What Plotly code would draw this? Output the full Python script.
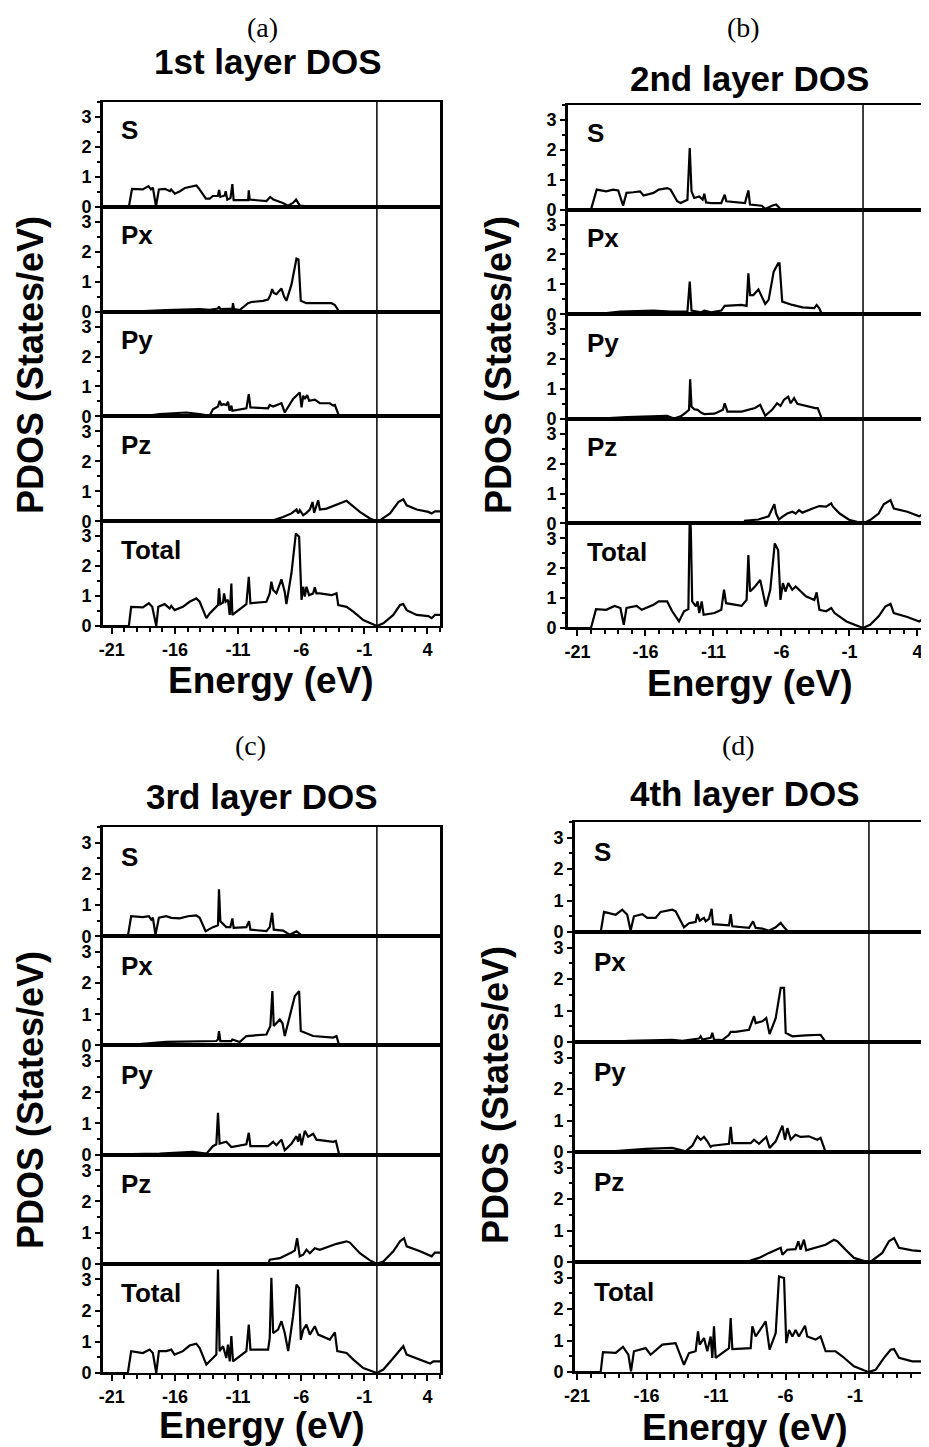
import plotly.graph_objects as go

# ---------------- categories / labels ----------------
ORBITALS = ["S", "Px", "Py", "Pz", "Total"]
PANEL_LETTERS = ["(a)", "(b)", "(c)", "(d)"]
PANEL_TITLES = ["1st layer DOS", "2nd layer DOS", "3rd layer DOS", "4th layer DOS"]
X_TICKS = [-21, -16, -11, -6, -1, 4]
Y_TICKS = [0, 1, 2, 3]
FERMI_LEVEL = 0.0

# ---------------- data: (energy eV, PDOS states/eV) ----------------
# Panel (a) 1st layer
A_S = [(-21.7, 0), (-19.65, 0), (-19.4, 0.6), (-18.55, 0.58), (-18.1, 0.69), (-17.9, 0.58), (-17.75, 0.64),
       (-17.5, 0.02), (-17.27, 0.58), (-16.8, 0.6), (-16.4, 0.52), (-16.3, 0.58), (-16.0, 0.44), (-15.6, 0.52),
       (-15.2, 0.63), (-14.9, 0.66), (-14.3, 0.71), (-14.05, 0.58), (-13.55, 0.27), (-13.25, 0.27), (-13.0, 0.36),
       (-12.6, 0.36), (-12.5, 0.56), (-12.4, 0.33), (-12.05, 0.38), (-11.98, 0.52), (-11.85, 0.24), (-11.6, 0.29),
       (-11.45, 0.76), (-11.35, 0.22), (-10.9, 0.22), (-10.2, 0.22), (-10.15, 0.55), (-10.08, 0.24), (-8.75, 0.19),
       (-8.45, 0.33), (-8.2, 0.24), (-7.45, 0.13), (-7.05, 0.04), (-6.65, 0.13), (-6.4, 0.24), (-6.1, 0.04),
       (-5.7, 0.02), (-3.7, 0.01), (-3.3, 0), (5.0, 0)]
A_PX = [(-21.7, 0), (-19.34, 0), (-16.69, 0.05), (-14.04, 0.08), (-13.25, 0.06), (-12.59, 0.10), (-12.51, 0.17),
        (-12.40, 0.08), (-11.45, 0.10), (-11.40, 0.28), (-11.32, 0.08), (-10.87, 0.05), (-10.21, 0.28), (-9.94, 0.32),
        (-9.02, 0.36), (-8.62, 0.40), (-8.44, 0.55), (-8.30, 0.75), (-8.17, 0.62), (-7.96, 0.58), (-7.56, 0.77),
        (-7.35, 0.50), (-7.17, 0.36), (-6.77, 0.9), (-6.37, 1.77), (-6.21, 1.74), (-6.03, 0.36), (-5.58, 0.28),
        (-3.59, 0.28), (-3.33, 0.22), (-2.99, 0), (5.0, 0)]
A_PY = [(-21.7, 0), (-18.54, 0), (-17.22, 0.08), (-15.10, 0.13), (-14.04, 0.08), (-13.25, 0.02), (-12.99, 0.24),
        (-12.59, 0.33), (-12.46, 0.52), (-12.32, 0.38), (-12.14, 0.41), (-11.93, 0.38), (-11.80, 0.49), (-11.66, 0.19),
        (-11.53, 0.36), (-11.45, 0.19), (-10.34, 0.27), (-10.15, 0.74), (-10.02, 0.30), (-8.62, 0.27), (-8.49, 0.38),
        (-8.22, 0.33), (-7.56, 0.44), (-7.30, 0.13), (-6.64, 0.58), (-6.11, 0.80), (-5.97, 0.30), (-5.84, 0.69),
        (-5.71, 0.58), (-5.52, 0.71), (-5.37, 0.52), (-4.92, 0.56), (-4.52, 0.44), (-3.73, 0.44), (-3.46, 0.36),
        (-3.33, 0.38), (-2.99, 0), (5.0, 0)]
A_PZ = [(-21.7, 0), (-8.22, 0.03), (-7.43, 0.14), (-6.77, 0.26), (-6.37, 0.39), (-6.24, 0.26), (-6.11, 0.37),
        (-5.84, 0.20), (-5.58, 0.28), (-5.31, 0.39), (-5.10, 0.64), (-4.97, 0.28), (-4.65, 0.70), (-4.52, 0.39),
        (-3.99, 0.42), (-2.93, 0.59), (-2.40, 0.68), (-2.14, 0.59), (-1.35, 0.31), (-0.55, 0.09), (0.0, 0),
        (0.24, 0.03), (1.04, 0.26), (1.70, 0.64), (2.09, 0.73), (2.36, 0.53), (3.15, 0.39), (4.08, 0.31),
        (4.34, 0.26), (4.6, 0.33), (5.0, 0.33)]
A_TOT = [(-21.7, 0), (-19.65, 0), (-19.47, 0.64), (-18.54, 0.62), (-18.07, 0.76), (-17.80, 0.64), (-17.48, 0),
         (-17.32, 0.64), (-16.82, 0.73), (-16.42, 0.59), (-16.29, 0.67), (-16.03, 0.53), (-15.37, 0.64),
         (-14.84, 0.81), (-14.31, 0.92), (-14.04, 0.81), (-13.51, 0.26), (-13.25, 0.42), (-12.99, 0.53),
         (-12.59, 0.70), (-12.51, 1.26), (-12.40, 0.73), (-12.19, 0.78), (-12.11, 1.09), (-11.98, 0.81),
         (-11.80, 0.87), (-11.66, 0.37), (-11.53, 1.42), (-11.45, 0.37), (-10.34, 0.73), (-10.15, 1.64),
         (-10.02, 0.76), (-8.75, 0.81), (-8.49, 1.09), (-8.36, 1.48), (-8.22, 1.2), (-7.96, 1.09), (-7.56, 1.56),
         (-7.30, 1.14), (-7.17, 0.73), (-6.77, 1.76), (-6.42, 3.09), (-6.16, 2.98), (-6.03, 1.09), (-5.97, 0.87),
         (-5.84, 1.31), (-5.71, 0.98), (-5.58, 1.31), (-5.37, 1.03), (-5.05, 1.09), (-4.92, 1.29), (-4.79, 1.09),
         (-4.52, 1.09), (-3.59, 1.03), (-3.20, 1.09), (-3.06, 0.70), (-2.40, 0.64), (-1.87, 0.48), (-1.08, 0.20),
         (0.0, 0), (0.51, 0.09), (1.30, 0.37), (1.83, 0.70), (2.09, 0.73), (2.36, 0.53), (3.15, 0.37),
         (4.08, 0.33), (4.34, 0.26), (4.6, 0.37), (5.0, 0.37)]

# Panel (b) 2nd layer
B_S = [(-21.7, 0), (-20.0, 0), (-19.58, 0.67), (-18.88, 0.61), (-18.38, 0.67), (-18.0, 0.64), (-17.64, 0.13),
       (-17.39, 0.56), (-16.89, 0.58), (-16.39, 0.61), (-16.14, 0.47), (-15.40, 0.56), (-15.02, 0.67),
       (-14.40, 0.72), (-14.15, 0.67), (-13.66, 0.28), (-13.41, 0.22), (-12.91, 0.33), (-12.74, 2.06),
       (-12.61, 0.61), (-12.41, 0.39), (-12.04, 0.44), (-11.79, 0.33), (-11.67, 0.53), (-11.54, 0.24),
       (-11.17, 0.22), (-10.42, 0.22), (-10.17, 0.50), (-10.05, 0.28), (-8.68, 0.22), (-8.43, 0.64),
       (-8.31, 0.17), (-7.44, 0.13), (-7.19, 0.02), (-6.69, 0.13), (-6.39, 0.17), (-6.07, 0.02), (-5.20, 0.02),
       (-4.2, 0), (5.0, 0)]
B_PX = [(-21.7, 0), (-19.5, 0), (-17.88, 0.09), (-15.40, 0.12), (-14.15, 0.09), (-12.91, 0.09), (-12.74, 1.09),
        (-12.61, 0.12), (-11.92, 0.06), (-11.67, 0.12), (-11.17, 0.06), (-10.42, 0.12), (-10.17, 0.28),
        (-8.93, 0.31), (-8.56, 0.28), (-8.43, 1.37), (-8.31, 0.64), (-8.06, 0.64), (-7.69, 0.83), (-7.19, 0.34),
        (-6.94, 0.48), (-6.57, 1.42), (-6.24, 1.70), (-6.14, 1.70), (-5.94, 0.42), (-5.20, 0.31), (-4.45, 0.23),
        (-3.58, 0.20), (-3.41, 0.31), (-3.21, 0.20), (-3.03, 0), (5.0, 0)]
B_PY = [(-21.7, 0), (-19.63, 0), (-17.39, 0.06), (-15.40, 0.10), (-14.40, 0.10), (-13.90, 0.01), (-13.41, 0.08),
        (-13.03, 0.21), (-12.79, 0.30), (-12.71, 1.32), (-12.61, 0.41), (-12.41, 0.32), (-12.16, 0.30),
        (-11.92, 0.21), (-11.67, 0.16), (-10.92, 0.17), (-10.30, 0.30), (-10.17, 0.52), (-9.97, 0.24),
        (-8.93, 0.24), (-8.43, 0.30), (-7.94, 0.36), (-7.56, 0.47), (-7.19, 0.10), (-6.69, 0.30), (-6.32, 0.52),
        (-6.07, 0.43), (-5.82, 0.63), (-5.65, 0.69), (-5.50, 0.74), (-5.32, 0.52), (-5.07, 0.69), (-4.83, 0.50),
        (-4.20, 0.43), (-3.51, 0.36), (-3.33, 0.36), (-3.03, 0), (5.0, 0)]
B_PZ = [(-21.7, 0), (-8.70, 0), (-8.68, 0.09), (-7.69, 0.13), (-6.94, 0.24), (-6.52, 0.64), (-6.39, 0.33),
        (-6.19, 0.13), (-5.94, 0.22), (-5.57, 0.33), (-5.20, 0.39), (-4.95, 0.33), (-4.70, 0.44), (-4.45, 0.36),
        (-3.71, 0.50), (-3.21, 0.58), (-2.71, 0.56), (-2.34, 0.67), (-2.21, 0.56), (-1.72, 0.33), (-0.97, 0.11),
        (0.0, 0), (0.52, 0.11), (1.15, 0.33), (1.52, 0.64), (1.89, 0.76), (2.02, 0.78), (2.26, 0.50),
        (3.26, 0.39), (4.13, 0.24), (4.5, 0.33), (5.0, 0.33)]
B_TOT = [(-21.7, 0), (-20.0, 0), (-19.63, 0.63), (-18.88, 0.61), (-18.26, 0.74), (-17.84, 0.67), (-17.59, 0.11),
         (-17.39, 0.67), (-16.64, 0.74), (-16.27, 0.61), (-15.40, 0.78), (-15.02, 0.89), (-14.40, 0.89),
         (-14.03, 0.56), (-13.53, 0.22), (-13.16, 0.56), (-12.84, 0.63), (-12.74, 3.8), (-12.66, 3.3),
         (-12.56, 0.89), (-12.29, 0.72), (-12.16, 0.89), (-12.04, 0.50), (-11.86, 0.89), (-11.72, 0.44),
         (-10.92, 0.50), (-10.42, 0.61), (-10.22, 1.28), (-10.07, 0.83), (-8.93, 0.74), (-8.56, 0.94),
         (-8.43, 2.44), (-8.31, 1.22), (-7.94, 1.39), (-7.56, 1.61), (-7.14, 0.72), (-6.82, 1.28), (-6.49, 2.83),
         (-6.24, 2.61), (-6.07, 0.94), (-5.89, 1.50), (-5.70, 1.22), (-5.50, 1.50), (-5.20, 1.28), (-4.95, 1.39),
         (-4.20, 1.06), (-3.58, 0.94), (-3.41, 1.19), (-3.21, 0.61), (-2.71, 0.56), (-2.34, 0.67), (-2.09, 0.50),
         (-1.22, 0.22), (0.0, 0), (0.52, 0.11), (1.15, 0.39), (1.64, 0.72), (2.02, 0.81), (2.26, 0.50),
         (3.26, 0.37), (4.13, 0.22), (4.5, 0.33), (5.0, 0.33)]

# Panel (c) 3rd layer
C_S = [(-21.7, 0), (-19.73, 0), (-19.47, 0.64), (-18.54, 0.61), (-18.07, 0.64), (-17.88, 0.53), (-17.75, 0.59),
       (-17.54, 0.05), (-17.27, 0.59), (-16.69, 0.64), (-16.29, 0.59), (-15.63, 0.57), (-14.97, 0.64),
       (-14.31, 0.67), (-14.04, 0.59), (-13.57, 0.16), (-12.99, 0.29), (-12.59, 0.35), (-12.51, 1.5),
       (-12.40, 0.48), (-11.93, 0.29), (-11.61, 0.29), (-11.45, 0.57), (-11.35, 0.27), (-10.34, 0.29),
       (-10.13, 0.48), (-10.02, 0.21), (-8.75, 0.16), (-8.49, 0.29), (-8.30, 0.75), (-8.17, 0.21), (-7.43, 0.18),
       (-6.90, 0.05), (-6.37, 0.16), (-5.97, 0.03), (-4.52, 0.03), (-4.0, 0), (5.0, 0)]
C_PX = [(-21.7, 0), (-19.07, 0.03), (-16.69, 0.11), (-14.04, 0.14), (-12.72, 0.14), (-12.59, 0.19), (-12.51, 0.46),
        (-12.40, 0.14), (-11.53, 0.14), (-11.45, 0.19), (-10.87, 0.11), (-10.34, 0.30), (-8.75, 0.35),
        (-8.44, 0.62), (-8.28, 1.74), (-8.17, 0.62), (-7.69, 0.83), (-7.48, 0.71), (-7.30, 0.30), (-6.90, 0.94),
        (-6.50, 1.58), (-6.16, 1.74), (-6.03, 0.46), (-5.05, 0.30), (-3.46, 0.25), (-3.20, 0.30), (-2.99, 0),
        (5.0, 0)]
C_PY = [(-21.7, 0), (-17.22, 0.03), (-14.57, 0.09), (-13.51, 0.03), (-12.99, 0.27), (-12.72, 0.33), (-12.59, 1.34),
        (-12.46, 0.35), (-11.93, 0.41), (-11.66, 0.27), (-11.53, 0.24), (-10.34, 0.33), (-10.15, 0.70),
        (-10.02, 0.27), (-8.62, 0.27), (-8.22, 0.41), (-7.96, 0.30), (-7.56, 0.48), (-7.30, 0.14), (-6.77, 0.35),
        (-6.37, 0.59), (-6.24, 0.41), (-6.11, 0.67), (-5.97, 0.30), (-5.71, 0.76), (-5.45, 0.57), (-5.05, 0.67),
        (-4.79, 0.48), (-3.46, 0.41), (-3.25, 0.44), (-2.99, 0), (5.0, 0)]
C_PZ = [(-21.7, 0), (-8.62, 0), (-8.49, 0.13), (-7.69, 0.18), (-6.77, 0.36), (-6.50, 0.43), (-6.32, 0.82),
        (-6.11, 0.24), (-5.84, 0.29), (-5.58, 0.45), (-5.31, 0.34), (-4.92, 0.50), (-4.52, 0.45), (-3.73, 0.56),
        (-3.20, 0.64), (-2.40, 0.72), (-2.14, 0.68), (-1.35, 0.34), (-0.55, 0.11), (0.0, 0), (0.51, 0.07),
        (1.30, 0.40), (1.83, 0.72), (2.15, 0.82), (2.36, 0.56), (3.42, 0.40), (4.08, 0.29), (4.34, 0.24),
        (4.6, 0.36), (5.0, 0.36)]
C_TOT = [(-21.7, 0), (-19.73, 0), (-19.47, 0.70), (-18.54, 0.64), (-18.01, 0.75), (-17.75, 0.64), (-17.48, 0),
         (-17.27, 0.70), (-16.69, 0.70), (-16.29, 0.75), (-16.03, 0.59), (-15.37, 0.70), (-14.84, 0.88),
         (-14.31, 0.94), (-14.04, 0.80), (-13.51, 0.27), (-12.99, 0.48), (-12.72, 0.59), (-12.59, 3.32),
         (-12.46, 0.70), (-12.19, 0.86), (-11.93, 0.48), (-11.80, 0.91), (-11.66, 0.37), (-11.53, 1.18),
         (-11.40, 0.37), (-10.34, 0.70), (-10.15, 1.55), (-10.02, 0.75), (-8.62, 0.75), (-8.49, 1.12),
         (-8.36, 3.05), (-8.22, 1.28), (-7.83, 1.39), (-7.56, 1.66), (-7.30, 1.28), (-7.03, 0.70), (-6.64, 1.82),
         (-6.37, 2.83), (-6.16, 2.73), (-6.03, 1.07), (-5.84, 1.39), (-5.58, 1.55), (-5.31, 1.23), (-4.92, 1.50),
         (-4.65, 1.23), (-3.73, 1.07), (-3.33, 1.30), (-3.14, 0.70), (-2.40, 0.64), (-1.87, 0.43), (-1.08, 0.16),
         (0.0, 0), (0.51, 0.11), (1.30, 0.48), (1.83, 0.75), (2.09, 0.86), (2.36, 0.59), (3.42, 0.43),
         (4.21, 0.30), (4.47, 0.37), (5.0, 0.37)]

# Panel (d) 4th layer
D_S = [(-21.2, 0), (-19.30, 0), (-19.06, 0.64), (-18.22, 0.55), (-17.75, 0.71), (-17.39, 0.55), (-17.15, 0.04),
       (-16.91, 0.50), (-16.31, 0.57), (-15.95, 0.45), (-15.35, 0.45), (-14.99, 0.64), (-14.15, 0.71),
       (-13.91, 0.66), (-13.31, 0.15), (-12.95, 0.28), (-12.47, 0.32), (-12.35, 0.57), (-12.18, 0.36),
       (-11.87, 0.45), (-11.75, 0.34), (-11.51, 0.42), (-11.32, 0.74), (-11.22, 0.25), (-10.07, 0.21),
       (-9.95, 0.57), (-9.83, 0.18), (-8.63, 0.13), (-8.34, 0.34), (-8.15, 0.13), (-7.67, 0.11), (-7.19, 0.04),
       (-6.71, 0.15), (-6.35, 0.29), (-6.11, 0.15), (-5.87, 0.04), (-3.84, 0.02), (-3.0, 0), (5.0, 0)]
D_PX = [(-21.2, 0), (-18.94, 0), (-17.27, 0.04), (-14.15, 0.07), (-13.43, 0.04), (-12.23, 0.11), (-12.11, 0.18),
        (-11.99, 0.08), (-11.39, 0.13), (-11.27, 0.29), (-11.15, 0.08), (-10.55, 0.06), (-10.07, 0.23),
        (-9.95, 0.32), (-9.59, 0.32), (-8.63, 0.39), (-8.27, 0.82), (-8.15, 0.60), (-7.67, 0.66), (-7.39, 0.76),
        (-7.15, 0.25), (-6.71, 0.76), (-6.35, 1.72), (-6.11, 1.72), (-5.99, 0.29), (-5.51, 0.18), (-4.56, 0.21),
        (-3.84, 0.21), (-3.48, 0.23), (-3.12, 0), (5.0, 0)]
D_PY = [(-21.2, 0), (-18.46, 0.02), (-16.07, 0.10), (-14.15, 0.13), (-13.19, 0.02), (-12.71, 0.20), (-12.35, 0.50),
        (-12.11, 0.39), (-11.87, 0.48), (-11.63, 0.34), (-11.39, 0.16), (-11.27, 0.20), (-10.07, 0.26),
        (-9.95, 0.80), (-9.83, 0.28), (-8.51, 0.28), (-8.27, 0.39), (-7.91, 0.26), (-7.39, 0.48), (-7.15, 0.13),
        (-6.71, 0.34), (-6.23, 0.84), (-6.04, 0.39), (-5.87, 0.76), (-5.63, 0.39), (-5.28, 0.55), (-4.92, 0.48),
        (-4.32, 0.50), (-3.72, 0.39), (-3.48, 0.45), (-3.12, 0), (5.0, 0)]
D_PZ = [(-21.2, 0), (-8.60, 0), (-8.51, 0.05), (-7.91, 0.13), (-7.19, 0.29), (-6.59, 0.41), (-6.35, 0.45),
        (-6.23, 0.23), (-5.87, 0.39), (-5.28, 0.41), (-5.08, 0.66), (-4.92, 0.39), (-4.68, 0.71), (-4.51, 0.37),
        (-3.84, 0.45), (-3.12, 0.55), (-2.52, 0.71), (-2.28, 0.66), (-1.68, 0.39), (-1.08, 0.13), (-0.1, 0),
        (0.24, 0.05), (0.96, 0.29), (1.44, 0.66), (1.80, 0.76), (2.16, 0.45), (3.12, 0.37), (3.96, 0.34),
        (4.3, 0.29), (4.6, 0.36), (5.0, 0.36)]
D_TOT = [(-21.2, 0), (-19.30, 0), (-19.14, 0.63), (-18.22, 0.61), (-17.70, 0.80), (-17.31, 0.55), (-17.12, 0.02),
         (-16.91, 0.66), (-16.07, 0.76), (-15.71, 0.55), (-14.87, 0.87), (-13.91, 0.92), (-13.31, 0.23),
         (-12.95, 0.60), (-12.47, 0.66), (-12.30, 1.29), (-12.18, 0.87), (-11.87, 1.08), (-11.63, 0.66),
         (-11.39, 1.13), (-11.27, 0.45), (-11.15, 1.45), (-11.03, 0.45), (-10.07, 0.76), (-9.95, 1.72),
         (-9.83, 0.73), (-8.51, 0.76), (-8.39, 1.45), (-8.15, 1.13), (-7.43, 1.61), (-7.15, 0.71), (-6.71, 1.24),
         (-6.47, 3.04), (-6.11, 2.99), (-5.95, 0.92), (-5.75, 1.34), (-5.51, 1.13), (-5.28, 1.34), (-5.04, 1.13),
         (-4.60, 1.47), (-4.44, 1.13), (-3.84, 1.03), (-3.48, 1.13), (-3.12, 0.66), (-2.40, 0.66), (-1.92, 0.50),
         (-1.08, 0.18), (-0.05, 0), (0.48, 0.07), (1.08, 0.45), (1.56, 0.71), (1.80, 0.73), (2.16, 0.45),
         (3.12, 0.34), (3.96, 0.34), (4.3, 0.29), (4.6, 0.35), (5.0, 0.35)]

PANEL_DATA = [
    [A_S, A_PX, A_PY, A_PZ, A_TOT],
    [B_S, B_PX, B_PY, B_PZ, B_TOT],
    [C_S, C_PX, C_PY, C_PZ, C_TOT],
    [D_S, D_PX, D_PY, D_PZ, D_TOT],
]

# ---------------- layout geometry (figure pixels; the page adds an 8px body margin) ----------------
W, H = 921, 1439
GEOM = [
    dict(l=95, r=432, t=94, b=618, xr=[-21.7, 5.0], ymirror=True,
         letter=(254, 19), title=(260, 54), xlabel=(263, 672), ylabel=(22, 357), dx=16),
    dict(l=560, r=921, t=97, b=620, xr=[-21.69, 4.85], ymirror=False,
         letter=(735, 19), title=(741, 70), xlabel=(742, 675), ylabel=(490, 357), dx=17),
    dict(l=95, r=432, t=819, b=1365, xr=[-21.7, 5.0], ymirror=True,
         letter=(242, 737), title=(254, 789), xlabel=(254, 1417), ylabel=(22, 1092), dx=16),
    dict(l=567, r=921, t=814, b=1364, xr=[-21.15, 4.32], ymirror=False,
         letter=(730, 737), title=(737, 785), xlabel=(737, 1419), ylabel=(487, 1087), dx=17),
]


def px_x(p):
    return p / W


def px_y(p):
    return 1 - p / H


def ax_id(letter, n):
    return letter if n == 1 else f"{letter}{n}"


SANS = "Liberation Sans"
TICKFONT = dict(family=SANS, size=18, color="black")

fig = go.Figure()
layout = dict(width=W, height=H, margin=dict(l=0, r=0, t=0, b=0, autoexpand=False),
              paper_bgcolor="white", plot_bgcolor="white", showlegend=False)
annotations = []
shapes = []

for p, g in enumerate(GEOM):
    h = (g["b"] - g["t"]) / 5.0
    for k, orb in enumerate(ORBITALS):
        n = p * 5 + k + 1
        xid, yid = ax_id("x", n), ax_id("y", n)
        pts = PANEL_DATA[p][k]
        xs = [e for e, v in pts]
        ys = [v for e, v in pts]
        fig.add_trace(go.Scatter(x=xs, y=ys, mode="lines", xaxis=xid, yaxis=yid,
                                 line=dict(color="black", width=2.2), hoverinfo="skip"))
        top = g["t"] + k * h
        bot = g["t"] + (k + 1) * h
        xa = dict(domain=[px_x(g["l"]), px_x(g["r"])], range=g["xr"], anchor=yid, automargin=False,
                  showline=True, linecolor="black", linewidth=2, mirror=True,
                  showgrid=False, zeroline=False, fixedrange=True)
        if k == 4:
            xa.update(tickmode="array", tickvals=X_TICKS, ticktext=[f"<b>{t}</b>" for t in X_TICKS],
                      ticks="outside", ticklen=6, tickwidth=2, tickcolor="black",
                      tickfont=TICKFONT, showticklabels=True,
                      minor=dict(ticks="outside", ticklen=4, tickwidth=1.5, tickcolor="black",
                                 tick0=-21, dtick=1))
        else:
            xa.update(ticks="", showticklabels=False)
        ya = dict(domain=[px_y(bot), px_y(top)], range=[0, 3.5], anchor=xid, automargin=False,
                  showline=True, linecolor="black", linewidth=3, mirror=g["ymirror"],
                  showgrid=False, zeroline=False, fixedrange=True,
                  tickmode="array", tickvals=Y_TICKS, ticktext=[f"<b>{t}</b>" for t in Y_TICKS],
                  ticks="outside", ticklen=5, tickwidth=2, tickcolor="black", tickfont=TICKFONT,
                  minor=dict(ticks="outside", ticklen=3, tickwidth=1.5, tickcolor="black",
                             tick0=0, dtick=0.5))
        layout[f"xaxis{n}"] = xa
        layout[f"yaxis{n}"] = ya
        annotations.append(dict(text=f"<b>{orb}</b>", xref=f"{xid} domain", yref=yid,
                                x=0, y=2.55, xshift=g["dx"], xanchor="left", yanchor="middle",
                                showarrow=False, font=dict(family=SANS, size=26, color="black")))
    n_tot = p * 5 + 5
    shapes.append(dict(type="line", xref=ax_id("x", n_tot), yref="paper", x0=FERMI_LEVEL, x1=FERMI_LEVEL,
                       y0=px_y(g["b"]), y1=px_y(g["t"]), line=dict(color="black", width=1.5), layer="above"))
    annotations.append(dict(text=PANEL_LETTERS[p], xref="paper", yref="paper",
                            x=px_x(g["letter"][0]), y=px_y(g["letter"][1]), xanchor="center", yanchor="middle",
                            showarrow=False, font=dict(family="Liberation Serif", size=28, color="black")))
    annotations.append(dict(text=f"<b>{PANEL_TITLES[p]}</b>", xref="paper", yref="paper",
                            x=px_x(g["title"][0]), y=px_y(g["title"][1]), xanchor="center", yanchor="middle",
                            showarrow=False, font=dict(family=SANS, size=35, color="black")))
    annotations.append(dict(text="<b>Energy (eV)</b>", xref="paper", yref="paper",
                            x=px_x(g["xlabel"][0]), y=px_y(g["xlabel"][1]), xanchor="center", yanchor="middle",
                            showarrow=False, font=dict(family=SANS, size=37, color="black")))
    annotations.append(dict(text="<b>PDOS (States/eV)</b>", xref="paper", yref="paper", textangle=-90,
                            x=px_x(g["ylabel"][0]), y=px_y(g["ylabel"][1]), xanchor="center", yanchor="middle",
                            showarrow=False, font=dict(family=SANS, size=36, color="black")))

layout["annotations"] = annotations
layout["shapes"] = shapes
fig.update_layout(**layout)
fig.write_html("out.html")
